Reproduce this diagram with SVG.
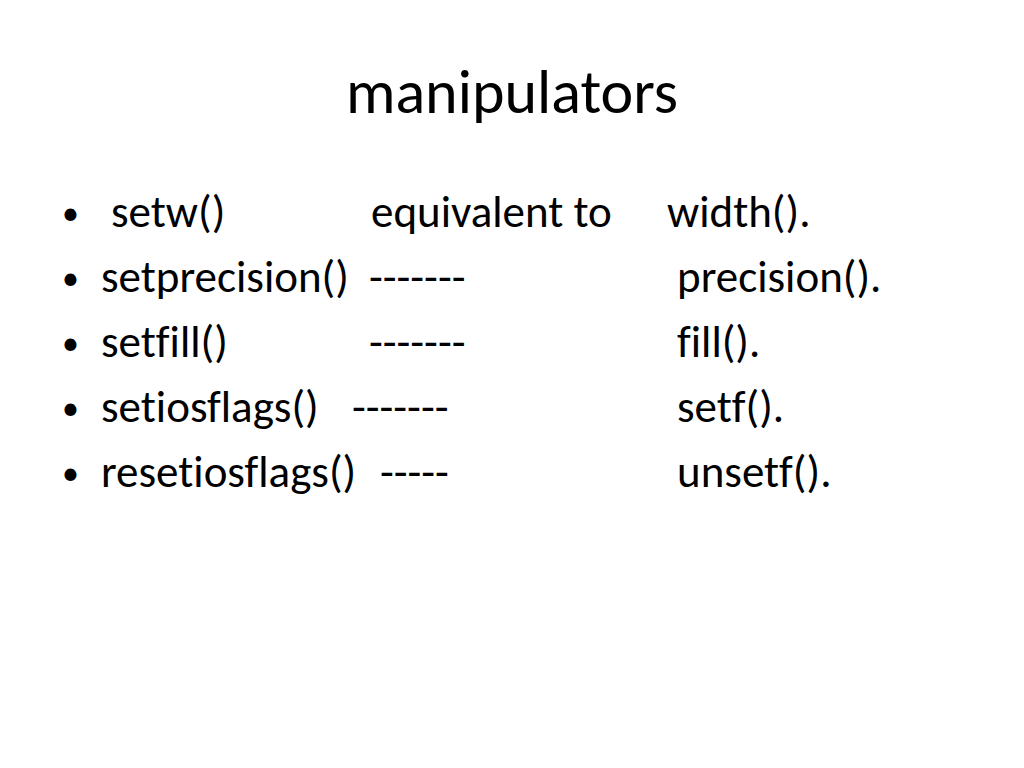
<svg xmlns="http://www.w3.org/2000/svg" width="1024" height="768" viewBox="0 0 1024 768">
<style>
text{font-family:Carlito,Lato,"Liberation Sans",sans-serif;fill:#000;font-variant-ligatures:none}
.t{font-size:62px}
.b{font-size:45px}
.d{font-size:34px}
</style>
<rect width="1024" height="768" fill="#fff"/>
<g id="title"><text class="t" x="512" y="113" text-anchor="middle">manipulators</text></g>
<g id="row1"><text class="d" x="62" y="225">•</text><text class="b" x="111" y="227">setw()</text><text class="b" x="371" y="227">equivalent to</text><text class="b" x="667" y="227">width().</text></g>
<g id="row2"><text class="d" x="62" y="290">•</text><text class="b" x="101" y="292">setprecision()</text><text class="b" x="369" y="292">-------</text><text class="b" x="677" y="292">precision().</text></g>
<g id="row3"><text class="d" x="62" y="355">•</text><text class="b" x="101" y="357">setfill()</text><text class="b" x="369" y="357">-------</text><text class="b" x="677" y="357">fill().</text></g>
<g id="row4"><text class="d" x="62" y="420">•</text><text class="b" x="101" y="422">setiosflags()</text><text class="b" x="352" y="422">-------</text><text class="b" x="677" y="422">setf().</text></g>
<g id="row5"><text class="d" x="62" y="485">•</text><text class="b" x="101" y="487">resetiosflags()</text><text class="b" x="380" y="487">-----</text><text class="b" x="677" y="487">unsetf().</text></g>
</svg>
